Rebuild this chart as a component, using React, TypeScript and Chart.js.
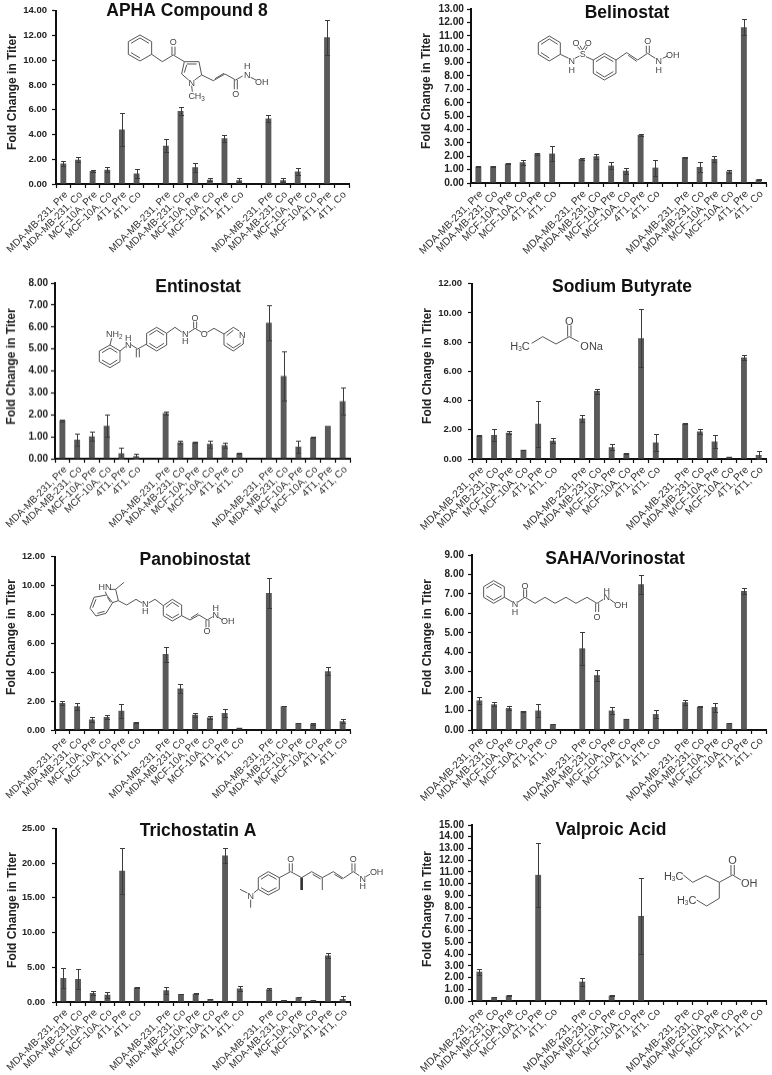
import React, { useEffect, useRef } from "react";
import { Chart, registerables } from "chart.js";

Chart.register(...registerables);

const categories = [
  "MDA-MB-231, Pre", "MDA-MB-231, Co", "MCF-10A, Pre", "MCF-10A, Co", "4T1, Pre", "4T1, Co", "",
  "MDA-MB-231, Pre", "MDA-MB-231, Co", "MCF-10A, Pre", "MCF-10A, Co", "4T1, Pre", "4T1, Co", "",
  "MDA-MB-231, Pre", "MDA-MB-231, Co", "MCF-10A, Pre", "MCF-10A, Co", "4T1, Pre", "4T1, Co",
];

const aphaValues = [1.65, 1.95, 1.05, 1.15, 4.4, 0.85, null, 3.1, 5.9, 1.35, 0.35, 3.7, 0.3, null, 5.3, 0.3, 1.0, 0, 11.85, 0];
const aphaErrors = [0.2, 0.2, 0.1, 0.2, 1.35, 0.37, 0, 0.55, 0.33, 0.35, 0.1, 0.28, 0.15, 0, 0.28, 0.15, 0.3, 0, 1.4, 0];
const belinostatValues = [1.22, 1.25, 1.45, 1.55, 2.2, 2.2, null, 1.8, 2.0, 1.3, 0.92, 3.6, 1.15, null, 1.93, 1.2, 1.8, 0.87, 11.65, 0.27];
const belinostatErrors = [0.03, 0.02, 0.03, 0.17, 0.08, 0.55, 0, 0.06, 0.2, 0.27, 0.22, 0.05, 0.6, 0, 0.04, 0.37, 0.2, 0.13, 0.58, 0.03];
const entinostatValues = [1.75, 0.87, 1.02, 1.5, 0.25, 0.12, null, 2.08, 0.75, 0.75, 0.68, 0.62, 0.25, null, 6.2, 3.77, 0.55, 0.97, 1.5, 2.62];
const entinostatErrors = [0.05, 0.28, 0.2, 0.5, 0.25, 0.12, 0, 0.08, 0.07, 0.02, 0.16, 0.12, 0.01, 0, 0.8, 1.1, 0.28, 0.03, 0, 0.63];
const butyrateValues = [1.6, 1.65, 1.8, 0.63, 2.42, 1.25, null, 2.78, 4.65, 0.8, 0.37, 8.27, 1.13, null, 2.43, 1.88, 1.2, 0.15, 6.95, 0.28];
const butyrateErrors = [0.02, 0.4, 0.12, 0.02, 1.57, 0.17, 0, 0.25, 0.17, 0.2, 0.03, 2.0, 0.55, 0, 0.02, 0.2, 0.42, 0.02, 0.17, 0.28];
const panobinostatValues = [1.87, 1.65, 0.72, 0.9, 1.33, 0.52, null, 5.25, 2.87, 1.05, 0.87, 1.17, 0.15, null, 9.47, 1.65, 0.48, 0.43, 4.07, 0.6];
const panobinostatErrors = [0.14, 0.24, 0.18, 0.12, 0.5, 0.01, 0, 0.52, 0.28, 0.13, 0.12, 0.28, 0.01, 0, 1.05, 0.01, 0.01, 0.06, 0.3, 0.15];
const sahaValues = [1.52, 1.32, 1.13, 0.97, 1.0, 0.3, null, 4.2, 2.82, 1.0, 0.57, 7.5, 0.82, null, 1.43, 1.2, 1.18, 0.35, 7.15, 0];
const sahaErrors = [0.2, 0.1, 0.08, 0.03, 0.35, 0.01, 0, 0.85, 0.28, 0.18, 0.01, 0.48, 0.2, 0, 0.13, 0.01, 0.23, 0.01, 0.15, 0];
const tsaValues = [3.45, 3.3, 1.3, 1.05, 18.9, 2.1, null, 1.7, 1.17, 1.2, 0.45, 21.1, 1.95, null, 1.85, 0.3, 0.7, 0.3, 6.7, 0.45];
const tsaErrors = [1.45, 1.45, 0.28, 0.42, 3.3, 0.05, 0, 0.5, 0.03, 0.03, 0.02, 1.05, 0.3, 0, 0.18, 0.02, 0.05, 0.02, 0.35, 0.4];
const valproicValues = [2.5, 0.33, 0.47, 0, 10.75, 0, null, 1.65, 0, 0.47, 0, 7.25, 0, null, 0, 0, 0, 0, 0, 0];
const valproicErrors = [0.25, 0.03, 0.05, 0, 2.75, 0, 0, 0.33, 0, 0.05, 0, 3.25, 0, 0, 0, 0, 0, 0, 0, 0];

const panels = [
  { title: "APHA Compound 8", values: aphaValues, errors: aphaErrors, max: 14, step: 2, left: 56, right: 349, top: 9.5, bottom: 184, titleX: 187, titleY: 11, tickGap: 5, tickSize: 9.5, labelSize: 10, axisTitleY: 92 },
  { title: "Belinostat", values: belinostatValues, errors: belinostatErrors, max: 13, step: 1, left: 470, right: 766, top: 8, bottom: 183, titleX: 627, titleY: 13, tickGap: 3, tickSize: 10.2, labelSize: 10.4, axisTitleY: 91 },
  { title: "Entinostat", values: entinostatValues, errors: entinostatErrors, max: 8, step: 1, left: 55, right: 350, top: 283, bottom: 458.5, titleX: 198, titleY: 287, tickGap: 3, tickSize: 10, labelSize: 10, axisTitleY: 366 },
  { title: "Sodium Butyrate", values: butyrateValues, errors: butyrateErrors, max: 12, step: 2, left: 471, right: 766, top: 282, bottom: 459, titleX: 622, titleY: 287, tickGap: 6, tickSize: 9.5, labelSize: 10.4, axisTitleY: 366 },
  { title: "Panobinostat", values: panobinostatValues, errors: panobinostatErrors, max: 12, step: 2, left: 55, right: 350, top: 555, bottom: 730, titleX: 195, titleY: 560, tickGap: 6, tickSize: 9.2, labelSize: 10, axisTitleY: 637 },
  { title: "SAHA/Vorinostat", values: sahaValues, errors: sahaErrors, max: 9, step: 1, left: 471, right: 766, top: 555, bottom: 730, titleX: 615, titleY: 559, tickGap: 4, tickSize: 10, labelSize: 10.4, axisTitleY: 637 },
  { title: "Trichostatin A", values: tsaValues, errors: tsaErrors, max: 25, step: 5, left: 56, right: 350, top: 826, bottom: 1002, titleX: 198, titleY: 831, tickGap: 7, tickSize: 9.2, labelSize: 10, axisTitleY: 910 },
  { title: "Valproic Acid", values: valproicValues, errors: valproicErrors, max: 15, step: 1, left: 471, right: 766, top: 825, bottom: 1001, titleX: 611, titleY: 830, tickGap: 4, tickSize: 10, labelSize: 10.4, axisTitleY: 909 },
];

const FONT = "'Liberation Sans', Arial, sans-serif";

function Panel({ p }: { p: any }) {
  const ref = useRef<HTMLCanvasElement>(null);
  const canvasLeft = p.left - 54;
  const canvasTop = Math.max(0, p.top - 10);
  const canvasRight = p.right + 6;
  const canvasBottom = Math.min(1075, p.bottom + 73);
  const w = canvasRight - canvasLeft;
  const h = canvasBottom - canvasTop;

  useEffect(() => {
    const errorBars = {
      id: "errorBars",
      afterDatasetsDraw(chart: any) {
        const { ctx, scales } = chart;
        ctx.save();
        ctx.strokeStyle = "#3c3c3c";
        ctx.lineWidth = 1;
        p.errors.forEach((e: number, i: number) => {
          const v = p.values[i];
          if (v === null || !e) return;
          const x = Math.round(scales.x.getPixelForValue(i)) + 0.5;
          const hi = Math.round(scales.y.getPixelForValue(v + e)) + 0.5;
          const lo = Math.round(scales.y.getPixelForValue(Math.max(0, v - e))) + 0.5;
          ctx.beginPath();
          ctx.moveTo(x, hi);
          ctx.lineTo(x, lo);
          ctx.moveTo(x - 2.5, hi);
          ctx.lineTo(x + 2.5, hi);
          ctx.moveTo(x - 2.5, lo);
          ctx.lineTo(x + 2.5, lo);
          ctx.stroke();
        });
        ctx.restore();
      },
    };
    const panelText = {
      id: "panelText",
      afterDraw(chart: any) {
        const { ctx } = chart;
        ctx.save();
        ctx.textAlign = "center";
        ctx.textBaseline = "middle";
        ctx.font = `bold 17.5px ${FONT}`;
        ctx.fillStyle = "#111";
        ctx.fillText(p.title, p.titleX - canvasLeft, p.titleY - canvasTop);
        ctx.translate(p.left - 43 - canvasLeft, p.axisTitleY - canvasTop);
        ctx.rotate(-Math.PI / 2);
        ctx.font = `bold 12px ${FONT}`;
        ctx.fillStyle = "#222";
        ctx.fillText("Fold Change in Titer", 0, 0);
        ctx.restore();
      },
    };
    const chart = new Chart(ref.current!, {
      type: "bar",
      data: {
        labels: categories,
        datasets: [
          {
            data: p.values,
            backgroundColor: "#5a5a5a",
            barPercentage: 0.4,
            categoryPercentage: 1,
          },
        ],
      },
      options: {
        responsive: false,
        animation: false,
        layout: { padding: { left: 0, right: canvasRight - p.right, top: p.top - canvasTop, bottom: 0 } },
        plugins: { legend: { display: false }, tooltip: { enabled: false }, title: { display: false } },
        scales: {
          x: {
            afterFit: (s: any) => { s.height = canvasBottom - p.bottom; },
            grid: { offset: true, drawOnChartArea: false, tickLength: 4, tickColor: "#111", tickWidth: 1.2 },
            border: { color: "#111", width: 2 },
            ticks: {
              autoSkip: false, maxRotation: 45, minRotation: 45, padding: 1, labelOffset: 3,
              color: "#333", font: { family: FONT, size: p.labelSize },
            },
          },
          y: {
            min: 0,
            max: p.max,
            afterFit: (s: any) => { s.width = 54; },
            grid: { drawOnChartArea: false, tickLength: 4, tickColor: "#111", tickWidth: 1.2 },
            border: { color: "#111", width: 2 },
            ticks: {
              stepSize: p.step, autoSkip: false, padding: p.tickGap, color: "#222",
              font: { family: FONT, size: p.tickSize, weight: "bold" },
              callback: (v: any) => Number(v).toFixed(2),
            },
          },
        },
      },
      plugins: [errorBars, panelText],
    } as any);
    return () => chart.destroy();
  }, []);

  return (
    <canvas
      ref={ref}
      width={w}
      height={h}
      style={{ position: "absolute", left: canvasLeft, top: canvasTop, width: w, height: h }}
    />
  );
}

// Chemical structure sketches, written in 3x-zoom coordinates of their panel.
function Molecule({ ox, oy, lines, bold = [], labels }: { ox: number; oy: number; lines: string[]; bold?: string[]; labels: [string, number, number, string?][] }) {
  return (
    <g transform={`translate(${ox} ${oy}) scale(0.3333)`}>
      {lines.map((d, i) => (
        <polyline key={i} points={d} fill="none" stroke="#555" strokeWidth={3} />
      ))}
      {bold.map((d, i) => (
        <polyline key={i} points={d} fill="none" stroke="#333" strokeWidth={8} />
      ))}
      {labels.map(([t, x, y, sub], i) => {
        const m = t.match(/^([A-Za-z]*)([23])([A-Za-z]*)$/);
        return (
          <text key={i} x={x} y={y} textAnchor="middle" dominantBaseline="central" fontFamily={FONT} fontSize={sub === "big" ? 33 : 27} fill="#444">
            {m ? (
              <>
                {m[1]}
                <tspan fontSize={19} dy={6}>{m[2]}</tspan>
                <tspan dy={-6}>{m[3]}</tspan>
              </>
            ) : t}
          </text>
        );
      })}
    </g>
  );
}

function Molecules() {
  return (
    <svg width={772} height={1075} style={{ position: "absolute", left: 0, top: 0, pointerEvents: "none" }}>
      <Molecule ox={0} oy={0}
        lines={[
          "385,125 420,105 455,125 455,163 420,183 385,163 385,125",
          "393,130 420,114 447,130", "393,158 420,174",
          "455,163 487,185 520,165 553,185",
          "516,165 516,140", "525,165 525,140",
          "553,185 597,185 605,225 584,240", "566,240 545,222 553,185",
          "560,192 590,192", "553,218 560,195",
          "575,257 577,275",
          "605,225 640,242 675,222 707,240 728,228",
          "645,236 672,220",
          "703,240 703,268", "712,240 712,268",
          "752,232 768,240",
        ]}
        labels={[["O", 520, 126], ["N", 575, 248], ["CH3", 590, 289], ["O", 707, 283], ["N", 742, 224], ["H", 742, 198], ["OH", 785, 245]]}
      />
      <Molecule ox={386} oy={0}
        lines={[
          "457,128 490,108 523,128 523,163 490,183 457,163 457,128",
          "465,133 490,117 515,133", "465,158 490,174",
          "523,163 548,175", "567,175 580,168",
          "583,150 575,140", "590,150 582,137", "598,150 604,140", "592,147 598,136",
          "600,170 622,180",
          "622,180 655,160 690,180 690,220 655,240 622,220 622,180",
          "630,185 655,169 682,185", "630,215 655,231 682,215",
          "690,180 722,158 755,180 785,160 808,175",
          "727,166 752,184",
          "781,160 781,137", "790,160 790,137",
          "830,175 845,168",
        ]}
        labels={[["N", 557, 182], ["H", 557, 210], ["S", 590, 163], ["O", 570, 130], ["O", 607, 130], ["O", 785, 124], ["N", 818, 182], ["H", 818, 210], ["OH", 860, 165]]}
      />
      <Molecule ox={0} oy={270}
        lines={[
          "298,243 330,225 360,243 360,275 330,293 298,275 298,243",
          "306,248 330,234 352,248", "306,270 330,284 352,270",
          "330,225 335,205", "360,243 376,230", "393,224 413,237 440,222",
          "409,237 409,262", "418,237 418,262",
          "440,190 470,172 500,190 500,225 470,243 440,225 440,190",
          "448,195 470,181 492,195", "448,220 470,234 492,220",
          "500,190 525,172 545,186", "566,188 585,175 605,187",
          "581,175 581,155", "590,175 590,155",
          "622,187 642,175 672,192",
          "672,192 700,172 718,183", "730,205 730,222 700,243 672,225 672,192",
          "680,197 700,181", "680,220 700,234 722,220",
        ]}
        labels={[["NH2", 343, 193], ["N", 385, 226], ["H", 385, 205], ["N", 556, 193], ["H", 556, 212], ["O", 585, 143], ["O", 613, 193], ["N", 727, 195]]}
      />
      <Molecule ox={386} oy={270}
        lines={["437,220 470,200 510,222 550,200 578,215", "545,200 545,166", "555,200 555,166"]}
        labels={[["H3C", 402, 228, "big"], ["O", 550, 152, "big"], ["ONa", 617, 228, "big"]]}
      />
      <Molecule ox={0} oy={540}
        lines={[
          "270,205 282,172 320,165 338,188 318,220 288,228 270,205",
          "278,203 288,178", "292,220 314,214", "322,172 332,187",
          "320,165 316,155", "330,148 347,148 355,182 338,188",
          "347,148 372,127",
          "355,182 380,195 408,178 426,189", "446,189 465,178 490,197",
          "490,197 517,178 545,195 545,227 517,243 490,227 490,197",
          "498,202 517,187 537,200", "498,222 517,234 537,222",
          "545,227 570,240 597,225 622,240 638,230",
          "573,234 595,220",
          "618,240 618,262", "627,240 627,262",
          "655,232 668,240",
        ]}
        labels={[["HN", 315, 142], ["N", 436, 193], ["H", 436, 212], ["O", 621, 272], ["N", 647, 225], ["H", 647, 205], ["OH", 683, 243]]}
      />
      <Molecule ox={386} oy={540}
        lines={[
          "293,140 323,122 355,140 355,172 323,190 293,172 293,140",
          "301,145 323,131 347,145", "301,167 323,181 347,167",
          "355,172 378,185", "396,186 417,172 447,190 477,172 507,190 540,172 570,190 603,172 633,190 652,178",
          "413,172 413,148", "422,172 422,148",
          "629,190 629,216", "638,190 638,216",
          "672,178 688,190",
        ]}
        labels={[["N", 387, 193], ["H", 387, 215], ["O", 417, 137], ["O", 633, 230], ["N", 662, 172], ["H", 662, 152], ["OH", 705, 195]]}
      />
      <Molecule ox={0} oy={805}
        lines={[
          "775,218 805,200 838,218 838,253 805,270 775,253 775,218",
          "783,223 805,209 830,223", "783,248 805,261 830,248",
          "838,218 872,200 905,218 935,200 967,218 1000,200 1030,220 1060,200 1078,212",
          "868,200 868,175", "877,200 877,175",
          "938,208 962,222", "1003,208 1027,222",
          "967,218 967,255",
          "1056,200 1056,175", "1065,200 1065,175",
          "1097,215 1110,208",
          "775,253 762,263", "742,264 720,253", "752,284 752,308",
        ]}
        bold={["905,218 905,255"]}
        labels={[["O", 872, 163], ["O", 1060, 163], ["N", 1088, 222], ["H", 1088, 242], ["OH", 1130, 200], ["N", 752, 273]]}
      />
      <Molecule ox={386} oy={805}
        lines={[
          "892,210 920,232 960,212 1000,232 1040,210 1065,225",
          "1035,210 1035,180", "1045,210 1045,180",
          "1000,232 1000,280 962,303 932,285",
        ]}
        labels={[["H3C", 863, 213, "big"], ["O", 1040, 166, "big"], ["OH", 1090, 235, "big"], ["H3C", 902, 285, "big"]]}
      />
    </svg>
  );
}

export default function App() {
  return (
    <div style={{ position: "absolute", left: 0, top: 0, width: 772, height: 1075, background: "#fff", overflow: "hidden", filter: "blur(0.35px)" }}>
      {panels.map((p) => (
        <Panel key={p.title} p={p} />
      ))}
      <Molecules />
    </div>
  );
}
